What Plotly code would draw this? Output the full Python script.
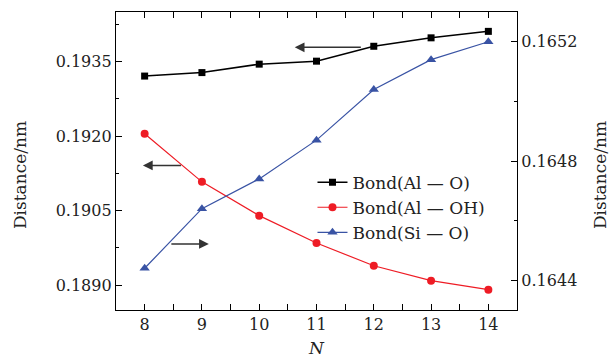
import plotly.graph_objects as go

N = [8, 9, 10, 11, 12, 13, 14]
al_o = [0.19321, 0.19328, 0.19345, 0.19351, 0.19381, 0.19398, 0.19411]
al_oh = [0.19205, 0.19108, 0.19040, 0.18985, 0.18939, 0.18909, 0.18891]
si_o = [0.16444, 0.16464, 0.16474, 0.16487, 0.16504, 0.16514, 0.16520]

left_ticks = [0.1890, 0.1905, 0.1920, 0.1935]
right_ticks = [0.1644, 0.1648, 0.1652]

# arrows: (x_tail, x_head, y on left axis)
arrows = [(11.8, 10.62, 0.19379), (8.66, 7.97, 0.19141), (8.44, 9.12, 0.18983)]

FONT = "DejaVu Serif"
fig = go.Figure()
fig.add_trace(go.Scatter(x=N, y=al_o, name="Bond(Al — O)", mode="lines+markers",
                         line=dict(color="black", width=1.5),
                         marker=dict(symbol="square", size=7, color="black")))
fig.add_trace(go.Scatter(x=N, y=al_oh, name="Bond(Al — OH)", mode="lines+markers",
                         line=dict(color="#ee1c25", width=1.2),
                         marker=dict(symbol="circle", size=8, color="#ee1c25")))
fig.add_trace(go.Scatter(x=N, y=si_o, name="Bond(Si — O)", mode="lines+markers", yaxis="y2",
                         line=dict(color="#3953a4", width=1.2),
                         marker=dict(symbol="triangle-up", size=9, color="#3953a4")))

for xt, xh, yv in arrows:
    fig.add_annotation(x=xh, y=yv, ax=xt, ay=yv, xref="x", yref="y", axref="x", ayref="y",
                       showarrow=True, arrowhead=2, arrowsize=1.3, arrowwidth=1.5,
                       arrowcolor="#333333", text="")

for xp in [-0.2394, 1.2070]:
    fig.add_annotation(text="Distance/nm", xref="paper", yref="paper", x=xp, y=0.453,
                       xanchor="center", yanchor="middle", textangle=-90, showarrow=False,
                       font=dict(family=FONT, size=17, color="#222"))
fig.add_annotation(text="<i>N</i>", xref="paper", yref="paper", x=0.5, y=-0.1275,
                   xanchor="center", yanchor="middle", showarrow=False,
                   font=dict(family=FONT, size=17, color="#222"))

axis_common = dict(showline=True, linecolor="black", linewidth=1.3, ticks="inside",
                   tickcolor="black", ticklen=6, tickwidth=1.2, showgrid=False, zeroline=False,
                   automargin=False, tickfont=dict(family=FONT, size=16, color="#222"))

fig.update_layout(
    width=610, height=358,
    margin=dict(l=116, r=93, t=12, b=48),
    plot_bgcolor="white", paper_bgcolor="white",
    font=dict(family=FONT, size=16, color="#222"),
    showlegend=True,
    legend=dict(x=0.49, y=0.488, xanchor="left", yanchor="top", bgcolor="rgba(0,0,0,0)",
                font=dict(family=FONT, size=17), tracegroupgap=0, itemwidth=30),
    xaxis=dict(range=[7.5, 14.5], tickvals=N, mirror="allticks",
               minor=dict(ticks="inside", dtick=0.5, tick0=7.5, ticklen=3, tickcolor="black"),
               **axis_common),
    yaxis=dict(range=[0.1885, 0.1945], tickvals=left_ticks, tickformat=".4f",
               minor=dict(ticks="inside", dtick=0.00075, tick0=0.1885 - 0.00025, ticklen=3, tickcolor="black"),
               **axis_common),
    yaxis2=dict(range=[0.1643, 0.1653], tickvals=right_ticks, tickformat=".4f", overlaying="y", side="right",
                minor=dict(ticks="inside", dtick=0.0002, tick0=0.1644, ticklen=3, tickcolor="black"),
                **axis_common),
)
fig.write_html("out.html")
